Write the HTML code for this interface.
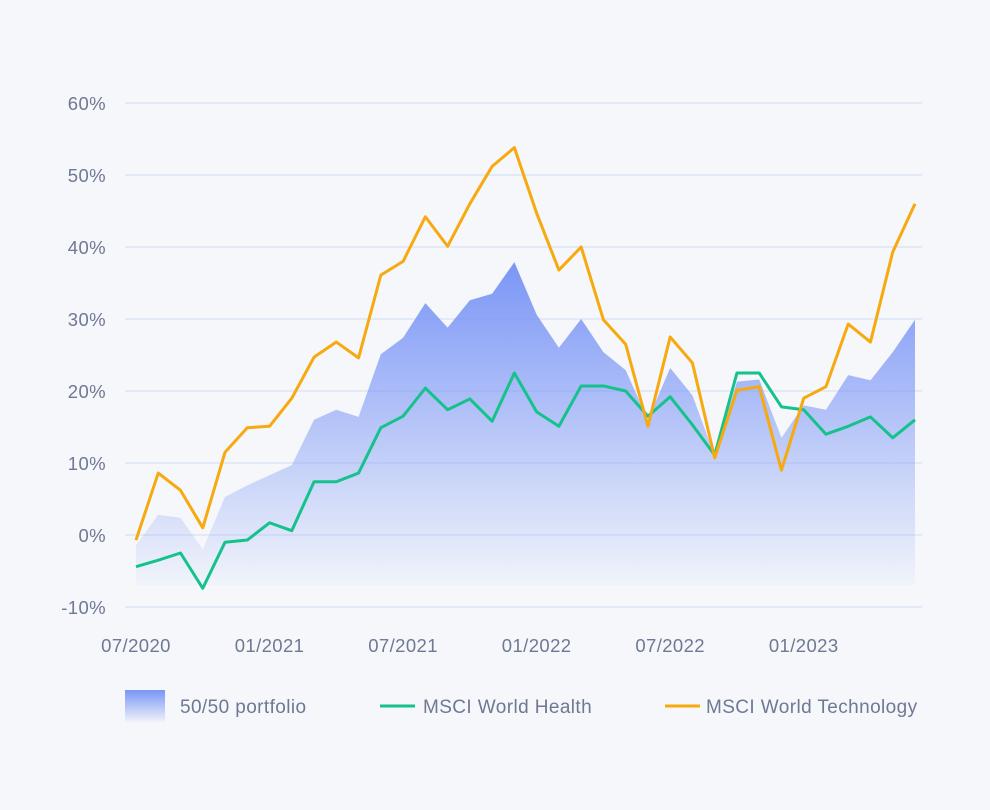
<!DOCTYPE html>
<html><head><meta charset="utf-8"><style>
body{margin:0;background:#f5f7fa;font-family:"Liberation Sans",sans-serif}
svg text{font-family:"Liberation Sans",sans-serif;fill:#6f7894;letter-spacing:0.4px}
</style></head><body>
<svg width="990" height="805" id="c">
<defs>
<linearGradient id="g" gradientUnits="userSpaceOnUse" x1="0" y1="260" x2="0" y2="590">
<stop offset="0" stop-color="#7a95f6"/><stop offset="1" stop-color="#7a95f6" stop-opacity="0.02"/></linearGradient>
<linearGradient id="lg" x1="0" y1="0" x2="0" y2="1"><stop offset="0" stop-color="#7a95f6"/><stop offset="1" stop-color="#7a95f6" stop-opacity="0.05"/></linearGradient>
</defs>
<g id="grid"></g><g id="marks"></g>
<g>
<rect x="125" y="690" width="40" height="32" fill="url(#lg)"/>
<text x="180" y="713" font-size="19">50/50 portfolio</text>
<line x1="380" y1="706" x2="415" y2="706" stroke="#16c28b" stroke-width="3"/>
<text x="423" y="713" font-size="19">MSCI World Health</text>
<line x1="665" y1="706" x2="700" y2="706" stroke="#f7a90f" stroke-width="3"/>
<text x="706" y="713" font-size="19">MSCI World Technology</text>
</g>
</svg>
<script>
const yTicks=[60,50,40,30,20,10,0,-10];
const xLabels=["07/2020","01/2021","07/2021","01/2022","07/2022","01/2023"];
const tech=[-0.7,8.6,6.2,1,11.5,14.9,15.1,19,24.7,26.8,24.6,36.1,38,44.2,40.1,46,51.2,53.8,44.7,36.8,40,29.9,26.5,15.1,27.5,23.9,10.7,20.1,20.6,9,19,20.6,29.3,26.8,39.3,46];
const health=[-4.4,-3.5,-2.5,-7.4,-1,-0.7,1.7,0.6,7.4,7.4,8.6,14.9,16.5,20.4,17.4,18.9,15.8,22.5,17.1,15.1,20.7,20.7,20,16.5,19.2,15.3,11.1,22.5,22.5,17.8,17.4,14,15.1,16.4,13.5,16];
const portfolio=[-1.4,2.8,2.4,-2,5.3,6.9,8.3,9.7,16,17.4,16.4,25.1,27.4,32.2,28.8,32.6,33.5,37.9,30.6,26,30,25.4,22.9,16,23.2,19.4,11,21.3,21.6,13.5,18,17.4,22.2,21.5,25.4,29.9];
const X=i=>136+i*(779/35), Y=v=>535-v*7.2;
const NS="http://www.w3.org/2000/svg";
const grid=document.getElementById('grid'),marks=document.getElementById('marks');
function mk(tag,at,p){const e=document.createElementNS(NS,tag);for(const k in at)e.setAttribute(k,at[k]);p.appendChild(e);return e;}
yTicks.forEach(v=>{
 const l=mk('line',{x1:125,x2:922,y1:Y(v),y2:Y(v),stroke:'#e2e9f7','stroke-width':2},grid);
 
 
 const t=mk('text',{x:106,y:Y(v)+7,'font-size':18.5,'text-anchor':'end'},grid);t.textContent=v+'%';
 
 
});
xLabels.forEach((s,i)=>{
 const t=mk('text',{x:X(i*6),y:652,'font-size':18.5,'text-anchor':'middle'},grid);t.textContent=s;
 
 
});
let d='M'+X(0)+','+Y(-7);portfolio.forEach((v,i)=>d+='L'+X(i)+','+Y(v));d+='L'+X(35)+','+Y(-7)+'Z';
const a=mk('path',{d,fill:'url(#g)'},marks);


function line(arr,c,name){const p=mk('path',{d:'M'+arr.map((v,i)=>X(i)+','+Y(v)).join('L'),fill:'none',stroke:c,'stroke-width':3,'stroke-linejoin':'round'},marks);
 
 }
line(health,'#16c28b','health-line');
line(tech,'#f7a90f','tech-line');
</script>
</body></html>
